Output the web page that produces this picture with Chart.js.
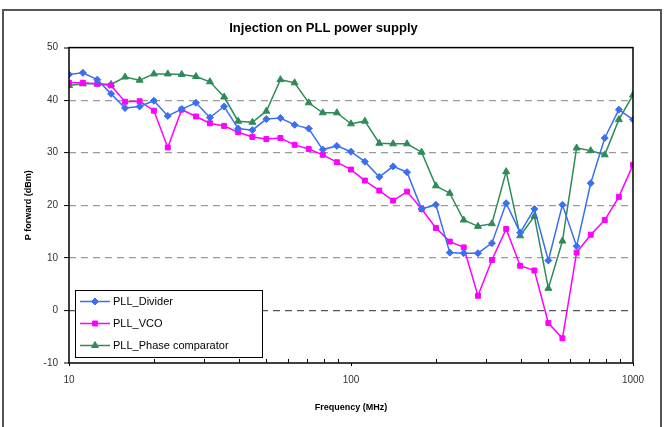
<!DOCTYPE html>
<html>
<head>
<meta charset="utf-8">
<script src="https://cdn.jsdelivr.net/npm/chart.js@4.4.1/dist/chart.umd.min.js"></script>
<style>
  html, body { margin: 0; padding: 0; background: #fff; }
  #wrap { width: 668px; height: 427px; }
</style>
</head>
<body>
<div id="wrap"><canvas id="pllChart" width="668" height="427"></canvas></div>
<script>
// Frequencies (MHz), same for all three series
const freqs = [10, 11.2, 12.6, 14.1, 15.8, 17.8, 20, 22.4, 25.1, 28.2,
    31.6, 35.5, 39.8, 44.7, 50.1, 56.2, 63.1, 70.8, 79.4, 89.1,
    100, 112, 126, 141, 158, 178, 200, 224, 251, 282,
    316, 355, 398, 447, 501, 562, 631, 708, 794, 891, 1000];

const dividerVals = [44.9, 45.2, 43.9, 41.2, 38.5, 38.8, 39.9, 37.0, 38.3, 39.5,
    36.7, 38.8, 34.6, 34.3, 36.4, 36.6, 35.3, 34.6, 30.6, 31.3,
    30.2, 28.3, 25.4, 27.4, 26.3, 19.3, 20.1, 11.0, 10.9, 10.9,
    12.8, 20.4, 14.8, 19.3, 9.5, 20.1, 12.2, 24.2, 32.8, 38.2, 36.3];

const vcoVals = [43.3, 43.3, 43.1, 42.8, 39.7, 39.8, 38.0, 31.0, 38.2, 36.9,
    35.6, 35.1, 33.9, 33.0, 32.6, 32.8, 31.5, 30.7, 29.6, 28.2,
    26.8, 24.7, 22.8, 20.9, 22.6, 19.3, 15.7, 13.1, 12.0, 2.8,
    9.6, 15.5, 8.5, 7.6, -2.4, -5.3, 11.0, 14.4, 17.2, 21.6, 27.7];

const phaseVals = [42.8, 43.1, 43.1, 43.0, 44.4, 43.8, 45.0, 45.0, 44.9, 44.5,
    43.5, 40.6, 36.0, 35.8, 37.9, 43.9, 43.3, 39.5, 37.6, 37.6,
    35.5, 36.0, 31.8, 31.7, 31.7, 30.1, 23.7, 22.3, 17.2, 16.0,
    16.5, 26.4, 14.2, 17.9, 4.2, 13.2, 30.9, 30.4, 29.6, 36.3, 41.0];

const seriesNames = ['PLL_Divider', 'PLL_VCO', 'PLL_Phase comparator'];
const yTicks = [-10, 0, 10, 20, 30, 40, 50];
const xLabels = [10, 100, 1000];
const xMinor = [20, 30, 40, 50, 60, 70, 80, 90, 200, 300, 400, 500, 600, 700, 800, 900];

const FONT = 'Arial, "Liberation Sans", sans-serif';

function toPoints(vals) {
    return freqs.map((f, i) => ({ x: f, y: vals[i] }));
}

// frame, plot box, minor ticks and legend
const decorations = {
    id: 'decorations',
    beforeDraw(chart) {
        const c = chart.ctx;
        c.save();
        c.strokeStyle = '#555';
        c.lineWidth = 2;
        c.strokeRect(3, 10, 658, 430);
        c.restore();
    },
    afterDatasetsDraw(chart) {
        const c = chart.ctx;
        const a = chart.chartArea;
        const xs = chart.scales.x;
        c.save();
        c.strokeStyle = '#000';
        c.lineWidth = 1.5;
        c.strokeRect(a.left, a.top, a.right - a.left, a.bottom - a.top);
        c.lineWidth = 1;
        c.beginPath();
        xMinor.forEach(v => {
            const px = Math.round(xs.getPixelForValue(v)) + 0.5;
            c.moveTo(px, a.bottom);
            c.lineTo(px, a.bottom - 4);
        });
        c.stroke();

        // legend box
        const lx = 75, ly = 290, lw = 187, lh = 67;
        c.fillStyle = '#fff';
        c.fillRect(lx, ly, lw, lh);
        c.strokeStyle = '#000';
        c.lineWidth = 1;
        c.strokeRect(lx + 0.5, ly + 0.5, lw, lh);
        c.font = '11px ' + FONT;
        c.textBaseline = 'middle';
        chart.data.datasets.forEach((ds, i) => {
            const y = 301.5 + i * 22;
            c.strokeStyle = ds.borderColor;
            c.fillStyle = ds.backgroundColor;
            c.lineWidth = 1.5;
            c.beginPath();
            c.moveTo(80, y);
            c.lineTo(110, y);
            c.stroke();
            c.lineWidth = 1;
            Chart.helpers.drawPoint(c, {
                pointStyle: ds.pointStyle,
                radius: ds.pointRadius,
                borderWidth: 1
            }, 95, y);
            c.fillStyle = '#000';
            c.fillText(ds.label, 113, y + 0.5);
        });
        c.restore();
    }
};

function makeDataset(label, vals, color, style, radius) {
    return {
        label: label,
        data: toPoints(vals),
        borderColor: color,
        backgroundColor: color,
        borderWidth: 1.5,
        pointStyle: style,
        pointRadius: radius,
        pointBorderWidth: 1,
        tension: 0
    };
}

window.onload = function() {
    const ctx = document.getElementById('pllChart').getContext('2d');
    new Chart(ctx, {
        type: 'line',
        data: {
            datasets: [
                makeDataset(seriesNames[0], dividerVals, '#3a6ff0', 'rectRot', 3.5),
                makeDataset(seriesNames[1], vcoVals, '#ff00ff', 'rect', 3.5),
                makeDataset(seriesNames[2], phaseVals, '#2e8b57', 'triangle', 4)
            ]
        },
        options: {
            responsive: false,
            animation: false,
            layout: { padding: { left: 14, right: 35, top: 0, bottom: 10 } },
            plugins: {
                legend: { display: false },
                tooltip: { enabled: false },
                title: {
                    display: true,
                    text: 'Injection on PLL power supply',
                    color: '#000',
                    font: { family: FONT, size: 13, weight: 'bold' },
                    padding: { top: 21, bottom: 11 }
                }
            },
            scales: {
                x: {
                    type: 'logarithmic',
                    min: 10,
                    max: 1000,
                    afterBuildTicks: s => { s.ticks = xLabels.map(v => ({ value: v })); },
                    afterFit: s => { s.height = 54; },
                    ticks: {
                        color: '#333',
                        font: { family: FONT, size: 10 },
                        padding: 8,
                        maxRotation: 0,
                        callback: v => String(v)
                    },
                    grid: { drawOnChartArea: false, tickLength: 3, color: '#000' },
                    border: { display: false },
                    title: {
                        display: true,
                        text: 'Frequency (MHz)',
                        color: '#000',
                        font: { family: FONT, size: 9, weight: 'bold' },
                        padding: { top: 4, bottom: 4 }
                    }
                },
                y: {
                    min: -10,
                    max: 50,
                    afterBuildTicks: s => { s.ticks = yTicks.map(v => ({ value: v })); },
                    afterFit: s => { s.width = 55; },
                    ticks: {
                        color: '#333',
                        font: { family: FONT, size: 10 },
                        padding: 6
                    },
                    grid: {
                        color: c => (c.tick && c.tick.value === 0) ? '#555' : '#9a9a9a',
                        lineWidth: c => (c.tick && (c.tick.value === -10 || c.tick.value === 50)) ? 0 : 1.2,
                        tickColor: '#000',
                        tickWidth: 1,
                        tickLength: 5
                    },
                    border: { display: false, dash: [7, 5] },
                    title: {
                        display: true,
                        text: 'P forward (dBm)',
                        color: '#000',
                        font: { family: FONT, size: 9, weight: 'bold' },
                        padding: { top: 9, bottom: 4 }
                    }
                }
            }
        },
        plugins: [decorations]
    });
};
</script>
</body>
</html>
